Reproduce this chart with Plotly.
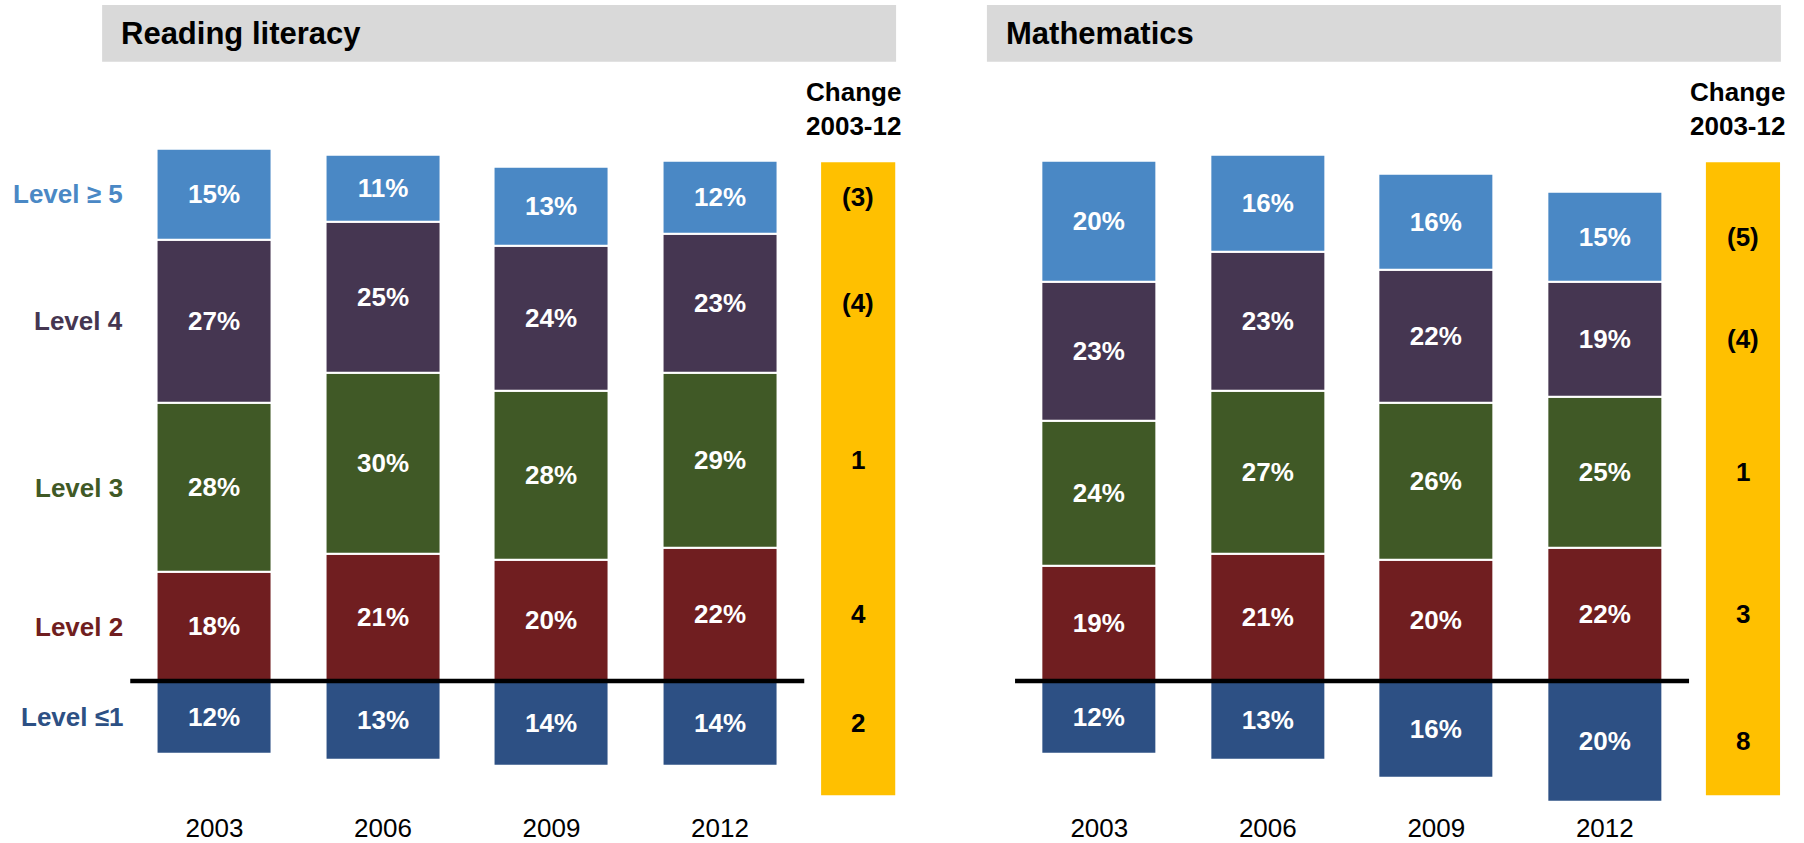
import plotly.graph_objects as go

# ---- data -------------------------------------------------------------
years = ["2003", "2006", "2009", "2012"]
levels = ["Level ≤1", "Level 2", "Level 3", "Level 4", "Level ≥ 5"]

reading_l1 = [12, 13, 14, 14]
reading_l2 = [18, 21, 20, 22]
reading_l3 = [28, 30, 28, 29]
reading_l4 = [27, 25, 24, 23]
reading_l5 = [15, 11, 13, 12]

math_l1 = [12, 13, 16, 20]
math_l2 = [19, 21, 20, 22]
math_l3 = [24, 27, 26, 25]
math_l4 = [23, 23, 22, 19]
math_l5 = [20, 16, 16, 15]

panels = [
    ("Reading literacy", [reading_l1, reading_l2, reading_l3, reading_l4, reading_l5]),
    ("Mathematics", [math_l1, math_l2, math_l3, math_l4, math_l5]),
]

# ---- style ------------------------------------------------------------
colors = ["#2D5084", "#701E20", "#405926", "#453651", "#4A88C5"]
YELLOW = "#FFC000"
GREY = "#D9D9D9"
FONT = "Arial, Liberation Sans, sans-serif"
FS = 26

W, H = 1804, 843
UNIT_X = 168.5            # px between year columns
UNIT_Y = 6.08             # px per percentage point
BASE_PX = 685             # pixel row of the 0% line
first_bar_px = [214.5, 1099.3]
X_RANGE = [-0.7, 4.1]
Y_RANGE = [-21.4, 96]
BAR_W = 0.6825
CHANGE_X = 3.82
CHANGE_W = 0.44
CHANGE_SPAN = (-18.9, 85.8)

def fx(px):
    return px / W

def fy(py):
    return 1 - py / H

y_bottom_px = BASE_PX - Y_RANGE[0] * UNIT_Y
y_top_px = BASE_PX - Y_RANGE[1] * UNIT_Y

fig = go.Figure()
shapes = []
annotations = []

for p, (title, series) in enumerate(panels):
    xa = "x" if p == 0 else "x2"
    ya = "y" if p == 0 else "y2"
    c0 = first_bar_px[p]
    left_px = c0 + X_RANGE[0] * UNIT_X
    right_px = c0 + X_RANGE[1] * UNIT_X
    axkey = "xaxis" if p == 0 else "xaxis2"
    aykey = "yaxis" if p == 0 else "yaxis2"

    fig.update_layout({
        axkey: dict(domain=[fx(left_px), fx(right_px)], range=X_RANGE,
                    tickvals=[0, 1, 2, 3], ticktext=years, showgrid=False,
                    zeroline=False, showline=False, ticks="", anchor=ya,
                    tickfont=dict(family=FONT, size=FS, color="#000000")),
        aykey: dict(domain=[fy(y_bottom_px), fy(y_top_px)], range=Y_RANGE,
                    visible=False, anchor=xa),
    })

    # yellow change column behind the change figures
    shapes.append(dict(type="rect", xref=xa, yref=ya,
                       x0=CHANGE_X - CHANGE_W / 2, x1=CHANGE_X + CHANGE_W / 2,
                       y0=CHANGE_SPAN[0], y1=CHANGE_SPAN[1],
                       fillcolor=YELLOW, line=dict(width=0), layer="below"))

    # stacked level bars; level <=1 hangs below the 0% line
    for i, vals in enumerate(series):
        yv = [-v for v in vals] if i == 0 else list(vals)
        fig.add_trace(go.Bar(
            x=[0, 1, 2, 3], y=yv, width=BAR_W, name=levels[i],
            text=[f"{v}%" for v in vals], textposition="inside",
            insidetextanchor="middle", textangle=0, constraintext="none",
            textfont=dict(family=FONT, size=FS, color="white", weight="bold"),
            marker=dict(color=colors[i], line=dict(color="white", width=2)),
            xaxis=xa, yaxis=ya, showlegend=False))

    # segment midpoints for labels
    def mids(col):
        out = [-series[0][col] / 2]
        run = 0
        for s in series[1:]:
            out.append(run + s[col] / 2)
            run += s[col]
        return out

    # change 2003-12 figures, centred on the 2012 segments
    m12 = mids(3)
    for i, s in enumerate(series):
        d = s[3] - s[0]
        txt = f"({abs(d)})" if d < 0 else f"{d}"
        annotations.append(dict(x=CHANGE_X, y=m12[i], xref=xa, yref=ya, text=txt,
                                showarrow=False, xanchor="center", yanchor="middle",
                                font=dict(family=FONT, size=FS, color="#000000",
                                          weight="bold")))

    annotations.append(dict(x=CHANGE_X - 0.03, y=fy(110), xref=xa, yref="paper",
                            text="Change<br>2003-12", showarrow=False,
                            xanchor="center", yanchor="middle",
                            font=dict(family=FONT, size=FS, color="#000000",
                                      weight="bold")))

    # level names beside the reading chart, at the 2003 segment midpoints
    if p == 0:
        m03 = mids(0)
        for i in range(len(levels)):
            annotations.append(dict(x=-0.53, y=m03[i], xref=xa, yref=ya,
                                    text=levels[i], showarrow=False,
                                    xanchor="right", yanchor="middle",
                                    font=dict(family=FONT, size=FS, color=colors[i],
                                              weight="bold")))

    # title banner
    box_l = c0 - 0.667 * UNIT_X
    box_r = c0 + 4.045 * UNIT_X
    shapes.append(dict(type="rect", xref="paper", yref="paper",
                       x0=fx(box_l), x1=fx(box_r), y0=fy(62), y1=fy(5),
                       fillcolor=GREY, line=dict(width=0), layer="below"))
    annotations.append(dict(x=fx(box_l + 17), y=fy(34), xref="paper", yref="paper",
                            text=title, showarrow=False, xanchor="left",
                            yanchor="middle",
                            font=dict(family=FONT, size=31, color="#000000",
                                      weight="bold")))

    # 0% divider line
    shapes.append(dict(type="line", xref=xa, yref=ya, x0=-0.5, x1=3.5, y0=0, y1=0,
                       line=dict(color="#000000", width=4.5), layer="above"))

fig.update_layout(
    width=W, height=H, margin=dict(l=0, r=0, t=0, b=0),
    paper_bgcolor="white", plot_bgcolor="white",
    barmode="relative", bargap=0,
    shapes=shapes, annotations=annotations,
    font=dict(family=FONT),
)

fig.write_html("out.html")
